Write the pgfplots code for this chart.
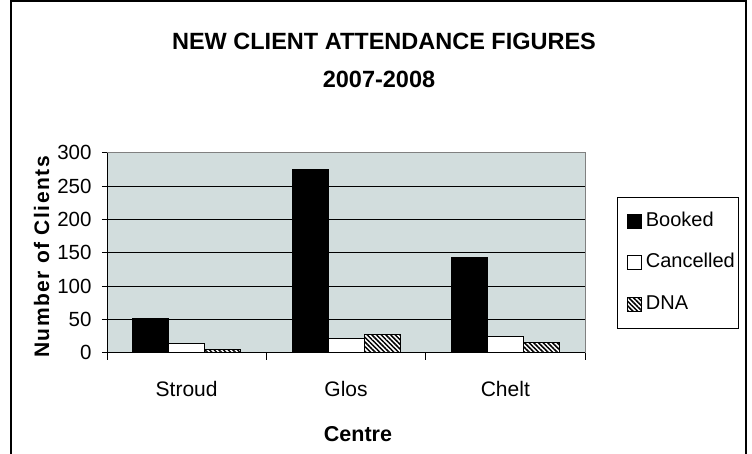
\documentclass[border=0pt]{standalone}
\usepackage{fontspec}
\setmainfont{Liberation Sans}
\usepackage{pgfplots}
\pgfplotsset{compat=1.18}
\usetikzlibrary{patterns.meta}
\definecolor{plotbg}{RGB}{210,221,221}
\begin{document}
\begin{tikzpicture}[x=1pt,y=1pt]
\useasboundingbox (0,0) rectangle (752,453);
\draw[line width=1.5pt] (11,-5) -- (11,451.8) -- (746,451.8) -- (746,-5);
\node[anchor=base,inner sep=0pt,font=\bfseries\fontsize{23.5}{28}\selectfont] at (384,403) {NEW CLIENT ATTENDANCE FIGURES};
\node[anchor=base,inner sep=0pt,font=\bfseries\fontsize{23.5}{28}\selectfont] at (379,365.5) {2007-2008};
\node[rotate=90,inner sep=0pt,font=\bfseries\fontsize{21}{25}\selectfont\addfontfeature{LetterSpace=7}] at (41.7,196) {Number of Clients};
\node[anchor=base,inner sep=0pt,font=\bfseries\fontsize{21.5}{25}\selectfont] at (358,11.3) {Centre};
\begin{axis}[
  at={(107pt,100.3pt)}, anchor=south west,
  scale only axis, width=478pt, height=200pt,
  ybar=0pt, bar width=36pt,
  xmin=-0.5, xmax=2.5, ymin=0, ymax=300,
  xtick={0,1,2}, xticklabels={Stroud,Glos,Chelt},
  major x tick style={draw=none},
  minor xtick={-0.5,0.5,1.5,2.5},
  minor tick length=7pt,
  ytick={0,50,...,300},
  major tick length=5pt,
  tick align=outside,
  xtick pos=bottom, ytick pos=left,
  tick style={black, line width=0.8pt},
  ymajorgrids, grid style={black, line width=1pt},
  axis background/.style={fill=plotbg},
  axis line style={draw=gray, line width=1pt},
  ticklabel style={font=\fontsize{20.5}{24}\selectfont},
  /pgf/number format/assume math mode=true,
  xticklabel style={anchor=north, inner sep=0pt, text height=15pt, yshift=-24pt, font=\fontsize{21}{24}\selectfont},
  yticklabel style={anchor=east, inner sep=0pt, xshift=-10.3pt},
  every axis plot post/.append style={legend image code/.code={%
      \path (0pt,0pt);
      \draw[##1, line width=0.8pt] (6pt,-7pt) rectangle (20pt,7pt);}},
  legend style={at={(1.0663,0.78)}, anchor=north west, draw=black, line width=0.8pt,
     font=\fontsize{20}{23}\selectfont, inner xsep=4pt, inner ysep=16.6pt,
     row sep=26.7pt, column sep=4pt,
     nodes={inner sep=0pt, text height=10pt, text depth=0pt}},
  legend cell align=left,
]
\addplot[draw=black, fill=black, line width=0.8pt] coordinates {(0,51) (1,275) (2,143)};
\addplot[draw=black, fill=white, line width=0.8pt] coordinates {(0,14) (1,22) (2,24)};
\addplot[draw=black, fill=white, line width=0.8pt, postaction={pattern={Lines[angle=-45, distance=3.3pt, line width=1.5pt]}}] coordinates {(0,5) (1,27) (2,16)};
\legend{Booked,Cancelled,DNA}
\draw[black, line width=1pt] (rel axis cs:0,1) -- (rel axis cs:0,0) -- (rel axis cs:1,0);
\end{axis}
\end{tikzpicture}
\end{document}
